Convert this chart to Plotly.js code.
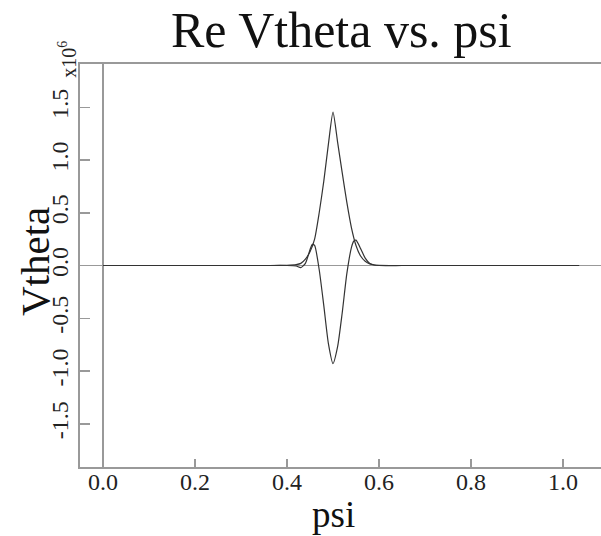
<!DOCTYPE html>
<html>
<head>
<meta charset="utf-8">
<script src="https://cdn.plot.ly/plotly-3.0.1.min.js"></script>
<style>html,body{margin:0;padding:0;background:#fff;overflow:hidden;}</style>
</head>
<body>
<div id="chart" style="width:601px;height:536px;"></div>
<script>
// psi values and Re Vtheta (units of 1e6)
var psiA = [0, 0.1, 0.2, 0.3, 0.35, 0.4, 0.42, 0.43, 0.44, 0.45, 0.46, 0.47, 0.48, 0.49, 0.50, 0.51, 0.52, 0.53, 0.54, 0.55, 0.56, 0.57, 0.58, 0.59, 0.60, 0.65, 0.7, 0.8, 0.9, 1.0, 1.035];
var vthetaA = [0, 0, 0, 0, 0, 0.002, 0.008, 0.02, 0.06, 0.13, 0.25, 0.50, 0.80, 1.15, 1.454, 1.17, 0.88, 0.60, 0.36, 0.19, 0.09, 0.04, 0.015, 0.005, 0.002, 0, 0, 0, 0, 0, 0];
var psiB = [0, 0.1, 0.2, 0.3, 0.35, 0.4, 0.42, 0.43, 0.44, 0.45, 0.455, 0.46, 0.47, 0.48, 0.49, 0.50, 0.51, 0.52, 0.53, 0.54, 0.545, 0.55, 0.56, 0.57, 0.58, 0.59, 0.60, 0.65, 0.7, 0.8, 0.9, 1.0, 1.035];
var vthetaB = [0, 0, 0, 0, 0, 0, -0.005, -0.02, 0.02, 0.15, 0.20, 0.19, -0.04, -0.38, -0.74, -0.93, -0.77, -0.45, -0.08, 0.17, 0.23, 0.24, 0.16, 0.07, 0.02, 0.005, 0, 0, 0, 0, 0, 0, 0];
var xTickVals = [0, 0.2, 0.4, 0.6, 0.8, 1.0];
var xTickText = ['0.0', '0.2', '0.4', '0.6', '0.8', '1.0'];
var yTickVals = [-1.5, -1.0, -0.5, 0, 0.5, 1.0, 1.5];
var yTickText = ['-1.5', '-1.0', '-0.5', '0.0', '0.5', '1.0', '1.5'];

var serif = 'Liberation Serif, Times New Roman, serif';
var traces = [
  {x: psiA, y: vthetaA, type: 'scatter', mode: 'lines', line: {color: '#333', width: 1.2, shape: 'spline', smoothing: 0.6}, hoverinfo: 'skip'},
  {x: psiB, y: vthetaB, type: 'scatter', mode: 'lines', line: {color: '#333', width: 1.2, shape: 'spline', smoothing: 0.6}, hoverinfo: 'skip'}
];
var layout = {
  width: 601, height: 536,
  margin: {l: 80, r: 0, t: 64, b: 69},
  paper_bgcolor: '#fff', plot_bgcolor: '#fff',
  showlegend: false,
  font: {family: serif, color: '#111'},
  xaxis: {
    range: [-0.05, 1.0826], tickvals: xTickVals, ticktext: xTickText,
    ticks: 'inside', ticklen: 8, tickwidth: 1.5, tickcolor: '#999',
    showline: true, linecolor: '#999', linewidth: 2, mirror: true,
    zeroline: true, zerolinecolor: '#999', zerolinewidth: 1.5,
    showgrid: false, ticklabelstandoff: -8, tickfont: {family: serif, size: 24, color: '#222'}
  },
  yaxis: {
    range: [-1.91, 1.91], tickvals: yTickVals, ticktext: yTickText, tickangle: -90,
    ticks: 'inside', ticklen: 10, tickwidth: 1.5, tickcolor: '#999',
    showline: true, linecolor: '#999', linewidth: 2, mirror: false,
    zeroline: true, zerolinecolor: '#999', zerolinewidth: 1.5,
    showgrid: false, tickfont: {family: serif, size: 24, color: '#222'}
  },
  title: {text: 'Re Vtheta vs. psi', font: {family: serif, size: 50, color: '#111'},
          xref: 'container', x: 0.568, xanchor: 'center', yref: 'container', y: 0.945, yanchor: 'middle'},
  annotations: [
    {text: 'psi', xref: 'x', x: 0.5, yref: 'paper', y: -0.118, yanchor: 'middle', showarrow: false,
     font: {family: serif, size: 37, color: '#111'}},
    {text: 'Vtheta', xref: 'paper', x: -0.086, yref: 'paper', y: 0.509, xanchor: 'center', yanchor: 'middle',
     textangle: -90, showarrow: false, font: {family: serif, size: 41, color: '#111'}},
    {text: 'x10<sup>6</sup>', xref: 'paper', x: -0.024, yref: 'paper', y: 1.012, xanchor: 'center', yanchor: 'middle',
     textangle: -90, showarrow: false, font: {family: serif, size: 20, color: '#222'}}
  ]
};
Plotly.newPlot('chart', traces, layout, {staticPlot: true, displayModeBar: false});
</script>
</body>
</html>
